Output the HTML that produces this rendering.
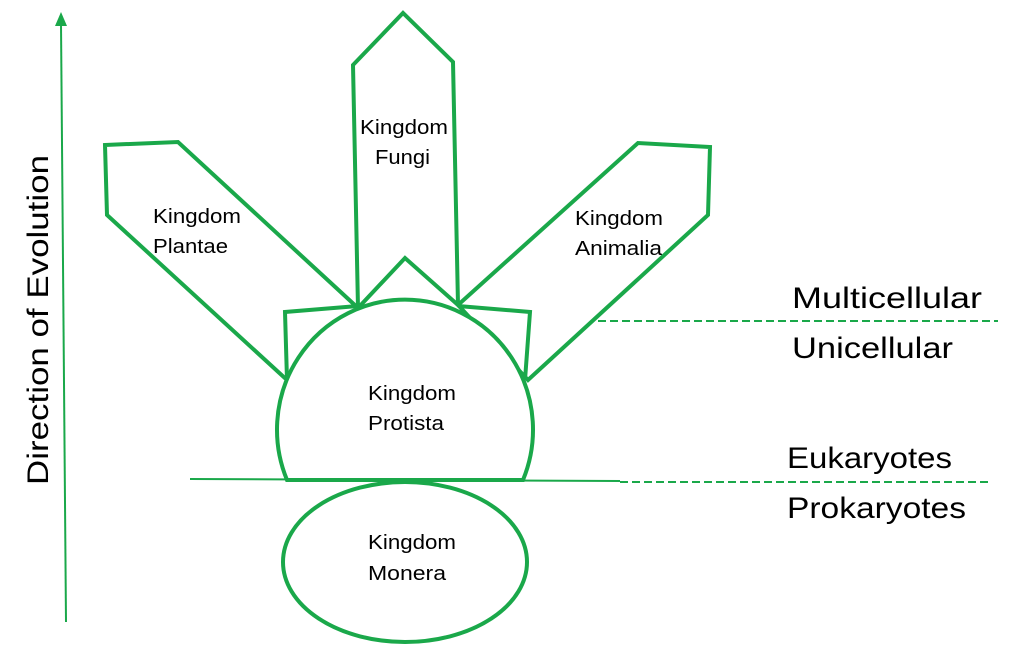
<!DOCTYPE html>
<html><head><style>body{margin:0;background:#fff}svg{display:block}</style></head><body>
<svg width="1021" height="646" viewBox="0 0 1021 646" xmlns="http://www.w3.org/2000/svg" font-family="Liberation Sans, sans-serif">
<g stroke="#1aa84a" fill="none" stroke-width="4" stroke-linejoin="miter">
<polygon points="105,145 178,142 358,308 287,380 107,215"/>
<polygon points="358,308 353,65 403,13 453,62 458,305 405,258"/>
<polygon points="458,305 638,143 710,147 708,215 528,380"/>
<polyline points="287,380 285,312 358,306"/>
<polyline points="458,306 530,312 525,380"/>
<path d="M287,480 A128,130 0 1 1 523,480 Z" fill="#fff"/>
<ellipse cx="405" cy="562" rx="122" ry="80" fill="#fff"/>
</g>
<g stroke="#1aa84a" stroke-width="2" fill="none">
<line x1="190" y1="479" x2="620" y2="481"/>
<line x1="620" y1="482" x2="992" y2="482" stroke-dasharray="8,4"/>
<line x1="598" y1="321" x2="998" y2="321" stroke-dasharray="8,4"/>
<line x1="66" y1="622" x2="61" y2="24"/>
</g>
<polygon points="61,12 55,26 67,26" fill="#1aa84a"/>
<g font-size="20" fill="#000" lengthAdjust="spacingAndGlyphs">
<text x="153" y="223" textLength="88" lengthAdjust="spacingAndGlyphs">Kingdom</text><text x="153" y="253" textLength="75" lengthAdjust="spacingAndGlyphs">Plantae</text>
<text x="360" y="134" textLength="88" lengthAdjust="spacingAndGlyphs">Kingdom</text><text x="375" y="164" textLength="55" lengthAdjust="spacingAndGlyphs">Fungi</text>
<text x="575" y="225" textLength="88" lengthAdjust="spacingAndGlyphs">Kingdom</text><text x="575" y="255" textLength="87" lengthAdjust="spacingAndGlyphs">Animalia</text>
<text x="368" y="400" textLength="88" lengthAdjust="spacingAndGlyphs">Kingdom</text><text x="368" y="430" textLength="76" lengthAdjust="spacingAndGlyphs">Protista</text>
<text x="368" y="549" textLength="88" lengthAdjust="spacingAndGlyphs">Kingdom</text><text x="368" y="580" textLength="78" lengthAdjust="spacingAndGlyphs">Monera</text>
</g>
<g font-size="30" fill="#000">
<text x="792" y="308" textLength="190" lengthAdjust="spacingAndGlyphs">Multicellular</text>
<text x="792" y="358" textLength="161" lengthAdjust="spacingAndGlyphs">Unicellular</text>
<text x="787" y="468" textLength="165" lengthAdjust="spacingAndGlyphs">Eukaryotes</text>
<text x="787" y="518" textLength="179" lengthAdjust="spacingAndGlyphs">Prokaryotes</text>
<text transform="translate(48,320) rotate(-90)" x="-165" textLength="330" lengthAdjust="spacingAndGlyphs">Direction of Evolution</text>
</g>
</svg>
</body></html>
